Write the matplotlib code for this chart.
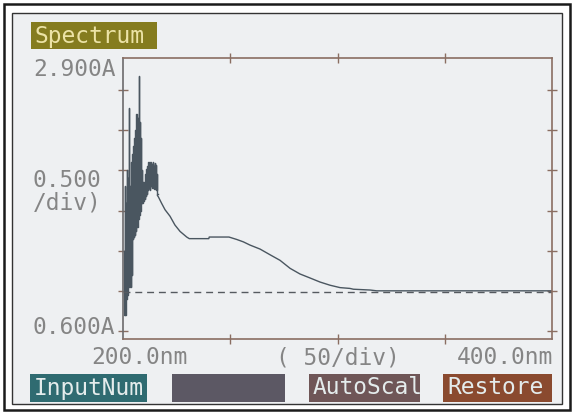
import matplotlib
matplotlib.use("Agg")
import matplotlib.pyplot as plt
from matplotlib.patches import Rectangle
import numpy as np

# ---- spectrum data (wavelength in nm, absorbance in A) ----
# noisy deep-UV region: one high/low reading pair every 0.5 nm
noisy_start, noisy_step = 200.4, 0.5
noisy_high = [1.60, 2.40, 2.20, 2.60, 2.50, 3.38, 2.40, 2.70, 2.80, 2.90,
              3.00, 3.10, 3.30, 3.25, 3.78, 3.20, 3.00, 2.60, 2.45, 2.45,
              2.55, 2.62, 2.65, 2.70, 2.66, 2.70, 2.68, 2.70, 2.66, 2.69,
              2.67, 2.55]
noisy_low = [0.80, 0.80, 1.00, 1.05, 1.20, 1.15, 1.15, 1.30, 1.75, 1.77,
             1.80, 1.85, 1.90, 2.00, 2.05, 2.10, 2.20, 2.20, 2.22, 2.25,
             2.28, 2.30, 2.35, 2.38, 2.36, 2.40, 2.38, 2.40, 2.37, 2.40,
             2.36, 2.30]
# smooth part of the spectrum
smooth_wl = [216.0, 216.5, 218.0, 219.6, 221.9, 224.2, 226.6, 229.7, 230.9,
             240.0, 240.2, 249.4, 253.0, 256.1, 259.2, 263.9, 268.5, 273.2,
             277.9, 282.5, 287.2, 291.8, 296.5, 301.2, 305.8, 307.4, 315.2,
             318.3, 329.0, 360.0, 400.0]
smooth_abs = [2.29, 2.27, 2.19, 2.11, 2.03, 1.92, 1.84, 1.77, 1.75,
              1.75, 1.77, 1.77, 1.74, 1.71, 1.67, 1.62, 1.55, 1.48,
              1.38, 1.31, 1.26, 1.21, 1.17, 1.14, 1.13, 1.12, 1.11,
              1.10, 1.10, 1.10, 1.10]
baseline_abs = 1.085

# axis scale
x_min, x_max, x_step = 200.0, 400.0, 50.0
y_bottom, y_top = 0.5, 4.0
y_tick_start, y_step = 0.6, 0.5

# screen labels
title_text = "Spectrum"
y_top_label = "2.900A"
y_bottom_label = "0.600A"
y_scale_label = "0.500\n/div)"
x_left_label = "200.0nm"
x_scale_label = "( 50/div)"
x_right_label = "400.0nm"
buttons = ["InputNum", "", "AutoScal", "Restore"]

# ---- styling ----
W, H = 573, 413
BG = "#eef0f2"
FRAME = "#8a6e62"
TRACE = "#4a5660"
LABEL = "#858585"
MONO = "DejaVu Sans Mono"
FS = 16.5
button_colors = ["#2f6b71", "#5c5864", "#6f5657", "#8a4a2f"]
button_x = [(30, 147), (172, 285), (309, 420), (443, 552)]

fig = plt.figure(figsize=(W / 100, H / 100), dpi=100)
fig.patch.set_facecolor("white")


def fx(px):
    return px / W


def fy(py):
    return 1 - py / H


# screen panel and bezel lines (behind everything)
fig.patches.append(Rectangle((fx(4), fy(410)), fx(566), 406 / H,
                             transform=fig.transFigure, facecolor="white",
                             edgecolor="#1a1a1a", linewidth=1.8, zorder=-3))
fig.patches.append(Rectangle((fx(12), fy(404)), fx(550), 391 / H,
                             transform=fig.transFigure, facecolor=BG,
                             edgecolor="#333333", linewidth=1.0, zorder=-2))

# plot area
left, right, top, bottom = 123, 552, 58, 339
ax = fig.add_axes([fx(left), fy(bottom), fx(right - left), (bottom - top) / H])
ax.set_zorder(1)
ax.set_facecolor(BG)

# interleave the high/low readings of the noisy region
n = len(noisy_high)
noisy_wl = noisy_start + noisy_step * np.arange(n)
wl_pairs = np.column_stack([noisy_wl, noisy_wl + noisy_step / 2]).ravel()
ab_pairs = np.column_stack([noisy_high, noisy_low]).ravel()
ax.plot(wl_pairs, ab_pairs, color=TRACE, linewidth=1.0,
        drawstyle="steps-mid")
ax.plot(np.r_[wl_pairs[-1], smooth_wl], np.r_[ab_pairs[-1], smooth_abs],
        color=TRACE, linewidth=1.0)
ax.axhline(baseline_abs, color="#555a60", linewidth=1.0,
           dashes=(5, 3.5))

ax.set_xlim(x_min, x_max)
ax.set_ylim(y_bottom, y_top)
ax.set_xticks(np.arange(x_min + x_step, x_max, x_step))
ax.set_yticks(np.arange(y_tick_start, y_top - 0.3, y_step))
ax.tick_params(which="both", direction="inout", length=7, width=1.0,
               color=FRAME, top=True, right=True,
               labelbottom=False, labelleft=False)
for s in ax.spines.values():
    s.set_color(FRAME)
    s.set_linewidth(1.2)
ax.spines["left"].set_color("#6c6a6c")

# title box
fig.patches.append(Rectangle((fx(31), fy(49)), fx(126), 27 / H,
                             transform=fig.transFigure, facecolor="#857c1f",
                             edgecolor="none", zorder=1))
fig.text(fx(35), fy(36), title_text, family=MONO, fontsize=FS,
         color="#ece3a6", va="center", ha="left", zorder=2)

# axis labels
fig.text(fx(33), fy(70), y_top_label, family=MONO, fontsize=FS,
         color=LABEL, va="center", ha="left")
fig.text(fx(33), fy(192), y_scale_label, family=MONO, fontsize=FS,
         color=LABEL, va="center", ha="left", linespacing=1.0)
fig.text(fx(33), fy(328), y_bottom_label, family=MONO, fontsize=FS,
         color=LABEL, va="center", ha="left")
fig.text(fx(91), fy(358), x_left_label, family=MONO, fontsize=FS,
         color=LABEL, va="center", ha="left")
fig.text(fx(276), fy(358), x_scale_label, family=MONO, fontsize=FS,
         color=LABEL, va="center", ha="left")
fig.text(fx(553), fy(358), x_right_label, family=MONO, fontsize=FS,
         color=LABEL, va="center", ha="right")

# soft-key buttons
for label, col, (x0, x1) in zip(buttons, button_colors, button_x):
    fig.patches.append(Rectangle((fx(x0), fy(402)), fx(x1 - x0), 28 / H,
                                 transform=fig.transFigure, facecolor=col,
                                 edgecolor="none", zorder=1))
    if label:
        fig.text(fx(x0 + 4), fy(388), label, family=MONO, fontsize=FS,
                 color="#e4ecec", va="center", ha="left", zorder=2)

fig.savefig("out.png", dpi=100, facecolor=fig.get_facecolor())
